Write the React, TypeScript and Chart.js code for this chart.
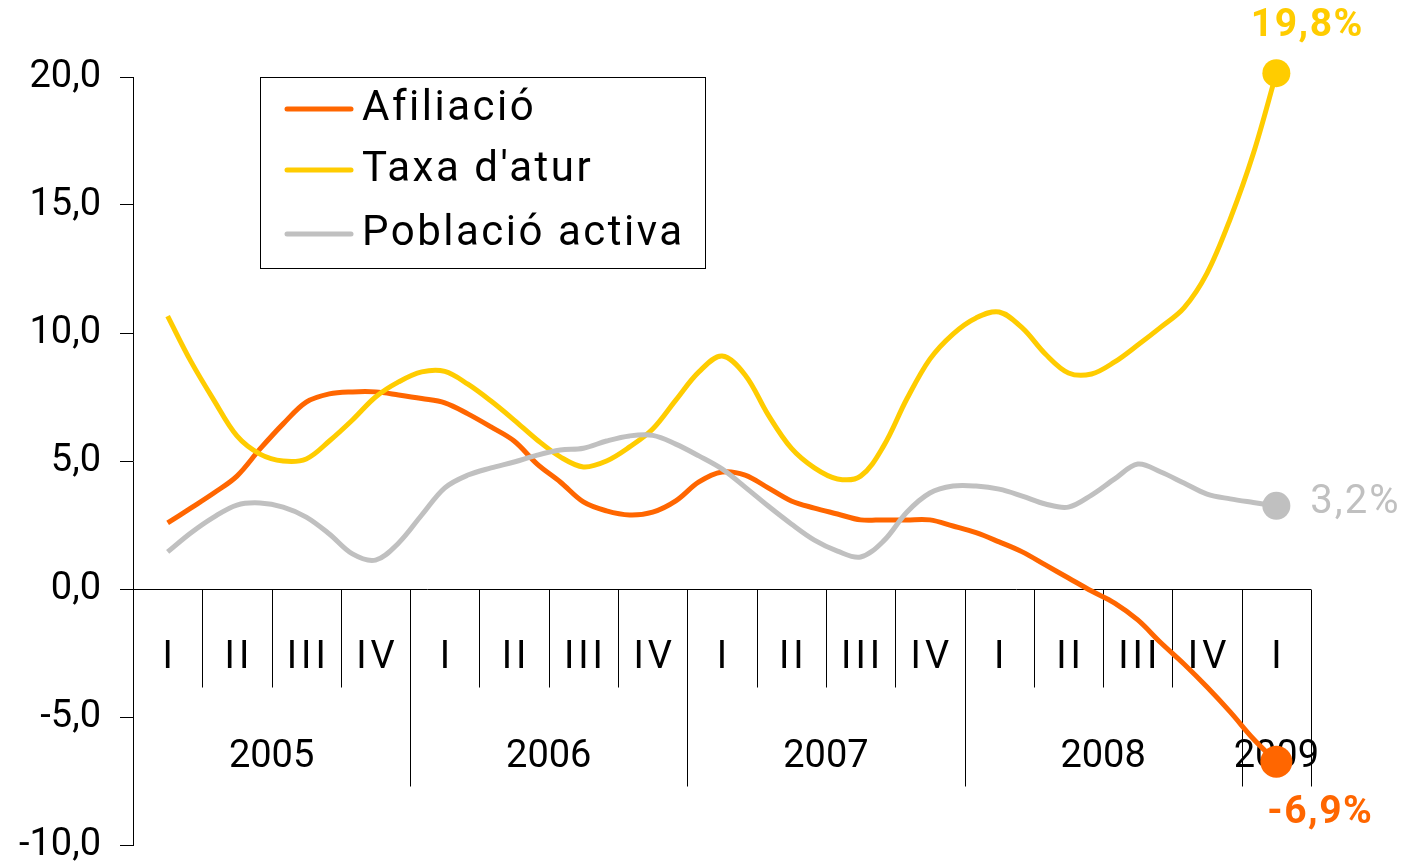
import React, { useEffect, useRef } from 'react';
import { Chart, registerables } from 'chart.js';

Chart.register(...registerables);

// ---------- data ----------
const years = ['2005', '2006', '2007', '2008', '2009'];
const quartersPerYear = [4, 4, 4, 4, 1];
const quarterNames = ['I', 'II', 'III', 'IV'];

// monthly values, Feb 2005 .. Feb 2009
const afiliacio = [
  2.58, 3.16, 3.75, 4.41, 5.47, 6.45, 7.3, 7.62, 7.7, 7.7, 7.58, 7.44,
  7.27, 6.84, 6.33, 5.78, 4.88, 4.18, 3.4, 3.05, 2.89, 3.0, 3.44, 4.18,
  4.57, 4.45, 3.95, 3.44, 3.16, 2.93, 2.7, 2.7, 2.7, 2.7, 2.46, 2.2,
  1.84, 1.45, 0.94, 0.43, -0.08, -0.55, -1.21, -2.1, -2.93, -3.83, -4.8, -5.85,
  -6.75,
];
const taxaAtur = [
  10.66, 8.9, 7.38, 5.98, 5.27, 5.0, 5.08, 5.78, 6.6, 7.5, 8.09, 8.48,
  8.5, 8.0, 7.34, 6.6, 5.82, 5.16, 4.77, 5.0, 5.55, 6.25, 7.38, 8.48,
  9.1, 8.36, 6.8, 5.5, 4.73, 4.3, 4.41, 5.59, 7.42, 8.98, 9.96, 10.59,
  10.82, 10.2, 9.18, 8.44, 8.4, 8.87, 9.53, 10.23, 10.98, 12.34, 14.45, 17.0,
  20.15,
];
const poblacioActiva = [
  1.45, 2.19, 2.81, 3.28, 3.36, 3.2, 2.81, 2.15, 1.37, 1.13, 1.8, 2.89,
  3.95, 4.45, 4.73, 4.96, 5.23, 5.43, 5.5, 5.78, 5.98, 6.0, 5.66, 5.2,
  4.69, 3.98, 3.24, 2.54, 1.91, 1.48, 1.25, 1.88, 3.0, 3.75, 4.02, 4.02,
  3.9, 3.63, 3.32, 3.2, 3.67, 4.3, 4.88, 4.57, 4.14, 3.71, 3.52, 3.38,
  3.25,
];
const seriesNames = ['Afiliació', "Taxa d'atur", 'Població activa'];
const endLabels = ['-6,9%', '19,8%', '3,2%'];
const yTicks = { min: -10, max: 20, step: 5 };

// ---------- derived ----------
const quarterLabels: string[] = [];
quartersPerYear.forEach((n) => {
  for (let q = 0; q < n; q++) quarterLabels.push(quarterNames[q]);
});
const monthLabels: string[] = [];
quartersPerYear.forEach((n, yi) => {
  for (let m = 0; m < n * 3; m++) monthLabels.push(years[yi] + '-' + (m + 1));
});

const FONT = 'Roboto, "DejaVu Sans", sans-serif';
const colors = ['#FF6600', '#FFCC00', '#C0C0C0'];
const pointRadii = [16, 14, 14];
const endLabelStyle = [
  { dx: 44, dy: 51, align: 'center', weight: 'bold', size: 39, spacing: '1.5px' },
  { dx: 31, dy: -47, align: 'center', weight: 'bold', size: 39, spacing: '1.5px' },
  { dx: 34, dy: -3, align: 'left', weight: 'normal', size: 40, spacing: '2px' },
];

const pad = (vals: number[]) => [null, ...vals];

const tablePlugin = {
  id: 'quarterTable',
  beforeDatasetsDraw(chart: any) {
    const { ctx, chartArea, scales } = chart;
    const y0 = Math.round(scales.y.getPixelForValue(0)) + 0.5;
    const left = chartArea.left;
    const band = (chartArea.right - chartArea.left) / monthLabels.length;
    const qRow = 98;
    const yRow = 197;
    ctx.save();
    ctx.strokeStyle = '#000';
    ctx.lineWidth = 1;
    ctx.beginPath();
    ctx.moveTo(left, y0);
    ctx.lineTo(chartArea.right, y0);
    ctx.stroke();
    const yearStarts: number[] = [];
    let acc = 0;
    quartersPerYear.forEach((n) => {
      yearStarts.push(acc);
      acc += n;
    });
    yearStarts.push(acc);
    for (let q = 1; q <= quarterLabels.length; q++) {
      const x = Math.round(left + q * 3 * band) + 0.5;
      const isYear = yearStarts.includes(q);
      ctx.beginPath();
      ctx.moveTo(x, y0);
      ctx.lineTo(x, y0 + (isYear ? yRow : qRow));
      ctx.stroke();
    }
    ctx.fillStyle = '#000';
    ctx.textAlign = 'center';
    ctx.textBaseline = 'middle';
    ctx.font = `38px ${FONT}`;
    (ctx as any).letterSpacing = '4px';
    quarterLabels.forEach((lab, q) => {
      const x = left + (q * 3 + 1.5) * band;
      ctx.fillText(lab, x + 2, y0 + 69);
    });
    (ctx as any).letterSpacing = '0px';
    years.forEach((yr, i) => {
      const a = left + yearStarts[i] * 3 * band;
      const b = left + yearStarts[i + 1] * 3 * band;
      ctx.fillText(yr, (a + b) / 2, y0 + 168);
    });
    ctx.restore();
  },
  afterDatasetsDraw(chart: any) {
    const { ctx } = chart;
    ctx.save();
    chart.data.datasets.forEach((ds: any, i: number) => {
      const meta = chart.getDatasetMeta(i);
      const pt = meta.data[meta.data.length - 1];
      const st = endLabelStyle[i];
      ctx.fillStyle = colors[i];
      ctx.font = `${st.weight} ${st.size}px ${FONT}`;
      (ctx as any).letterSpacing = st.spacing;
      ctx.textAlign = st.align;
      ctx.textBaseline = 'middle';
      ctx.fillText(endLabels[i], pt.x + st.dx, pt.y + st.dy);
    });
    ctx.restore();
  },
  afterDraw(chart: any) {
    const { ctx } = chart;
    ctx.save();
    ctx.strokeStyle = '#000';
    ctx.lineWidth = 1;
    ctx.strokeRect(260.5, 77.5, 445, 191);
    const rows = [109, 170, 234];
    seriesNames.forEach((name, i) => {
      ctx.strokeStyle = colors[i];
      ctx.lineWidth = 5;
      ctx.lineCap = 'round';
      ctx.beginPath();
      ctx.moveTo(287, rows[i]);
      ctx.lineTo(351, rows[i]);
      ctx.stroke();
      ctx.fillStyle = '#000';
      ctx.font = `42px ${FONT}`;
      (ctx as any).letterSpacing = '2.5px';
      ctx.textAlign = 'left';
      ctx.textBaseline = 'middle';
      ctx.fillText(name, 362, rows[i]);
    });
    ctx.restore();
  },
};

export default function App() {
  const ref = useRef<HTMLCanvasElement>(null);
  useEffect(() => {
    if (!ref.current) return;
    const series = [afiliacio, taxaAtur, poblacioActiva];
    const chart = new Chart(ref.current, {
      type: 'line',
      data: {
        labels: monthLabels,
        datasets: series.map((vals, i) => {
          const lastIdx = vals.length;
          return {
            label: seriesNames[i],
            data: pad(vals),
            borderColor: colors[i],
            backgroundColor: colors[i],
            borderWidth: 5,
            tension: 0.35,
            clip: false,
            order: 3 - i,
            pointRadius: (c: any) => (c.dataIndex === lastIdx ? pointRadii[i] : 0),
            pointHoverRadius: 0,
            pointBorderWidth: 0,
          } as any;
        }),
      },
      options: {
        animation: false,
        responsive: true,
        maintainAspectRatio: false,
        layout: { padding: { left: 0, top: 77, right: 101, bottom: 55 } },
        plugins: { legend: { display: false }, tooltip: { enabled: false } },
        scales: {
          x: { type: 'category', display: false, offset: true },
          y: {
            min: yTicks.min,
            max: yTicks.max,
            afterFit: (s: any) => {
              s.width = 133;
            },
            ticks: {
              stepSize: yTicks.step,
              color: '#000',
              padding: 19,
              font: { family: FONT, size: 38, lineHeight: 0.7 },
              callback: (v: any) => Number(v).toFixed(1).replace('.', ','),
            },
            grid: { drawOnChartArea: false, tickLength: 13, color: '#000', lineWidth: 1 },
            border: { color: '#000', width: 1 },
          },
        },
      },
      plugins: [tablePlugin],
    } as any);
    return () => chart.destroy();
  }, []);
  return (
    <div style={{ position: 'fixed', left: 0, top: 0, width: 1412, height: 900, background: '#fff', overflow: 'hidden' }}>
      <canvas ref={ref} />
    </div>
  );
}
